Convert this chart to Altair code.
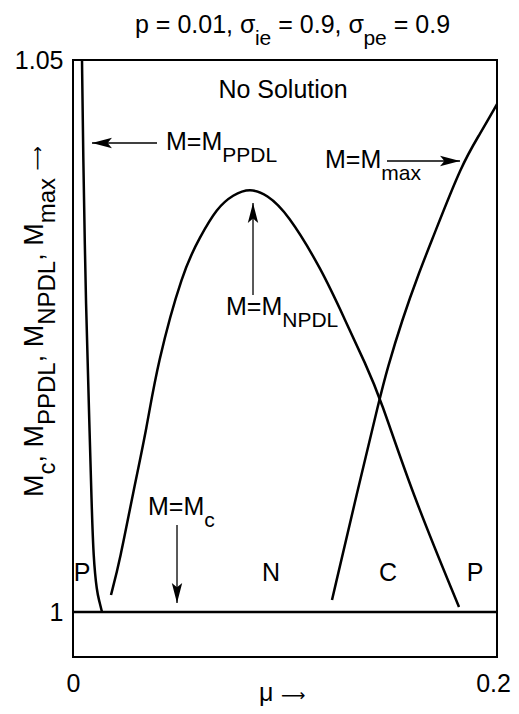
import altair as alt
import pandas as pd

FONT = "Liberation Sans"
AFONT = "DejaVu Sans"   # font for the long arrow glyphs
FS, FSS = 25, 21     # main / subscript font sizes
YFS, YFSS = 27, 24   # y-axis title main / subscript sizes
AFS = 17             # arrow glyph size
SUB = 12             # subscript baseline drop (px)

# ---------------- data ----------------
ppdl_x = [0.00425, 0.0047, 0.00613, 0.00778, 0.00873, 0.00967, 0.01132, 0.01226, 0.01368]
ppdl_y = [1.05, 1.04248, 1.02708, 1.01685, 1.01014, 1.00471, 1.00181, 1.00109, 1.0]

npdl_x = [0.01792, 0.02217, 0.02830, 0.03491, 0.03962, 0.05189, 0.05991, 0.06792, 0.07547,
          0.08349, 0.09151, 0.10094, 0.11745, 0.12830, 0.13821, 0.14481, 0.15991, 0.18208]
npdl_y = [1.00154, 1.00471, 1.01078, 1.01676, 1.02237, 1.03098, 1.03397, 1.03660, 1.03780,
          1.03840, 1.03780, 1.03620, 1.03098, 1.02645, 1.02237, 1.01947, 1.01078, 1.00045]

mmax_x = [0.12217, 0.13396, 0.14481, 0.14811, 0.15519, 0.16368, 0.16934, 0.18358, 0.19198, 0.2]
mmax_y = [1.00109, 1.01078, 1.01947, 1.02192, 1.02645, 1.03098, 1.03370, 1.04067, 1.04330, 1.04600]

mc_x = [0.0, 0.2]
mc_y = [1.0, 1.0]

x_ticks = [0, 0.2]
y_ticks = [1, 1.05]

# arrows: start -> tip (data units)
arr_x = [0.03962, 0.14811, 0.08491, 0.04906]
arr_y = [1.04248, 1.04085, 1.02871, 1.00788]
arr_x2 = [0.00896, 0.18255, 0.08491, 0.04906]
arr_y2 = [1.04248, 1.04085, 1.03705, 1.00082]
arr_ang = [180, 0, 270, 90]

# ---------------- layout ----------------
W, H = 424, 597
X0, Y0 = 73, 60          # page position of plot area's top-left
YMAX = 1.05
YMIN = 1.05 - 0.05 * H / 552.0
XMIN, XMAX = 0.0, 0.2


def dx(px):
    return XMIN + (px - X0) / W * (XMAX - XMIN)


def dy(py):
    return YMAX - (py - Y0) / H * (YMAX - YMIN)


AW = {' ': 278, ',': 278, '.': 278, '=': 584, 'M': 833, 'P': 667, 'D': 722, 'L': 556, 'N': 722,
      'a': 556, 'c': 500, 'e': 556, 'i': 222, 'm': 833, 'p': 556, 'x': 500, 'σ': 600}
for _d in "0123456789":
    AW[_d] = 556


def tw(s, size):
    return sum(AW.get(ch, 556) for ch in s) / 1000.0 * size


main_rows, sub_rows = [], []
rot_main, rot_sub, rot_arrow = [], [], []
center_rows, arrow_rows = [], []

# title with subscripts
title_segs = [("p = 0.01, σ", 0), ("ie", 1), (" = 0.9, σ", 0), ("pe", 1), (" = 0.9", 0)]
cur = 135.0
for s, is_sub in title_segs:
    size = FSS if is_sub else FS
    lead = len(s) - len(s.lstrip())
    px = cur + tw(s[:lead], size)
    row = {"x": dx(px), "y": dy(33 + (SUB if is_sub else 0)), "t": s.strip()}
    (sub_rows if is_sub else main_rows).append(row)
    cur += tw(s, size)

# annotations "M=M" + subscript
ann = [("PPDL", 166, 150), ("max", 325, 168), ("NPDL", 226, 315), ("c", 148, 515)]
for sub, px, py in ann:
    main_rows.append({"x": dx(px), "y": dy(py), "t": "M=M"})
    sub_rows.append({"x": dx(px + tw("M=M", FS)), "y": dy(py + SUB), "t": sub})

# x-axis title "μ →"
main_rows.append({"x": dx(259), "y": dy(701), "t": "μ"})
arrow_rows.append({"x": dx(281), "y": dy(701), "t": "⟶"})

# centered labels
for t, px, py in [("No Solution", 283, 98), ("P", 82, 581), ("N", 271, 581),
                  ("C", 388, 581), ("P", 475, 581)]:
    center_rows.append({"x": dx(px), "y": dy(py), "t": t})

# rotated y-axis title
ysegs = [("M", 0), ("c", 1), (", M", 0), ("PPDL", 1), (", M", 0), ("NPDL", 1),
         (", M", 0), ("max", 1), (" ", 0)]
cur = 497.0
base_x = 43.0
for s, kind in ysegs:
    size = YFSS if kind == 1 else YFS
    lead = len(s) - len(s.lstrip())
    py = cur - tw(s[:lead], size)
    if s.strip():
        row = {"x": dx(base_x + (SUB if kind == 1 else 0)), "y": dy(py), "t": s.strip()}
        [rot_main, rot_sub][kind].append(row)
    cur -= tw(s, size)
rot_arrow.append({"x": dx(base_x), "y": dy(cur), "t": "⟶"})

# ---------------- chart ----------------
xs = alt.Scale(domain=[XMIN, XMAX], nice=False, zero=False)
ys = alt.Scale(domain=[YMIN, YMAX], nice=False, zero=False)
X = alt.X("x:Q", scale=xs, title=None,
          axis=alt.Axis(values=x_ticks, format="~g", ticks=False, tickSize=0, domain=False,
                        grid=False, labelFont=FONT, labelFontSize=FS, labelColor="black",
                        labelPadding=14, labelFlush=False,
                        labelOffset={"condition": {"test": "datum.value > 0.1", "value": -4},
                                     "value": 0}))
Y = alt.Y("y:Q", scale=ys, title=None,
          axis=alt.Axis(values=y_ticks, format="~g", ticks=False, tickSize=0, domain=False,
                        grid=False, labelFont=FONT, labelFontSize=FS, labelColor="black",
                        labelPadding=10, labelFlush=False))

curves = pd.concat([
    pd.DataFrame({"x": ppdl_x, "y": ppdl_y, "c": "PPDL"}),
    pd.DataFrame({"x": npdl_x, "y": npdl_y, "c": "NPDL"}),
    pd.DataFrame({"x": mmax_x, "y": mmax_y, "c": "max"}),
    pd.DataFrame({"x": mc_x, "y": mc_y, "c": "c"}),
])

lines = alt.Chart(curves).mark_line(color="black", strokeWidth=2.5, interpolate="basis",
                                    clip=True).encode(x=X, y=Y, detail="c:N")

arrows = pd.DataFrame({"x": arr_x, "y": arr_y, "x2": arr_x2, "y2": arr_y2, "a": arr_ang})
rules = alt.Chart(arrows).mark_rule(color="black", strokeWidth=1.3).encode(
    x=X, y=Y, x2="x2:Q", y2="y2:Q")

ARROW = "M0,0 L-1,-0.26 L-0.78,0 L-1,0.26 Z"
heads_df = pd.DataFrame({"x": arr_x2, "y": arr_y2, "a": arr_ang})
heads = alt.Chart(heads_df).mark_point(shape=ARROW, filled=True, size=1600, color="black",
                                       opacity=1, strokeWidth=0).encode(
    x=X, y=Y, angle=alt.Angle("a:Q", scale=None))


def txt(rows, size, align, angle=0, font=FONT):
    kw = dict(align=align, baseline="alphabetic", font=font, fontSize=size, color="black")
    if angle:
        kw["angle"] = angle
    return alt.Chart(pd.DataFrame(rows)).mark_text(**kw).encode(x=X, y=Y, text="t:N")


chart = alt.layer(
    lines, rules, heads,
    txt(main_rows, FS, "left"),
    txt(sub_rows, FSS, "left"),
    txt(center_rows, FS, "center"),
    txt(arrow_rows, AFS, "left", 0, AFONT),
    txt(rot_main, YFS, "left", 270),
    txt(rot_sub, YFSS, "left", 270),
    txt(rot_arrow, AFS, "left", 270, AFONT),
).properties(
    width=W, height=H,
    padding={"left": X0 - 8, "top": Y0 - 8, "right": 519 - 16 - (X0 - 8) - W,
             "bottom": 714 - 16 - (Y0 - 8) - H},
    autosize=alt.AutoSizeParams(type="none"),
    background="white",
).configure_view(stroke="black", strokeWidth=2)

chart.save("out.html", embed_options={"renderer": "svg", "actions": False})
